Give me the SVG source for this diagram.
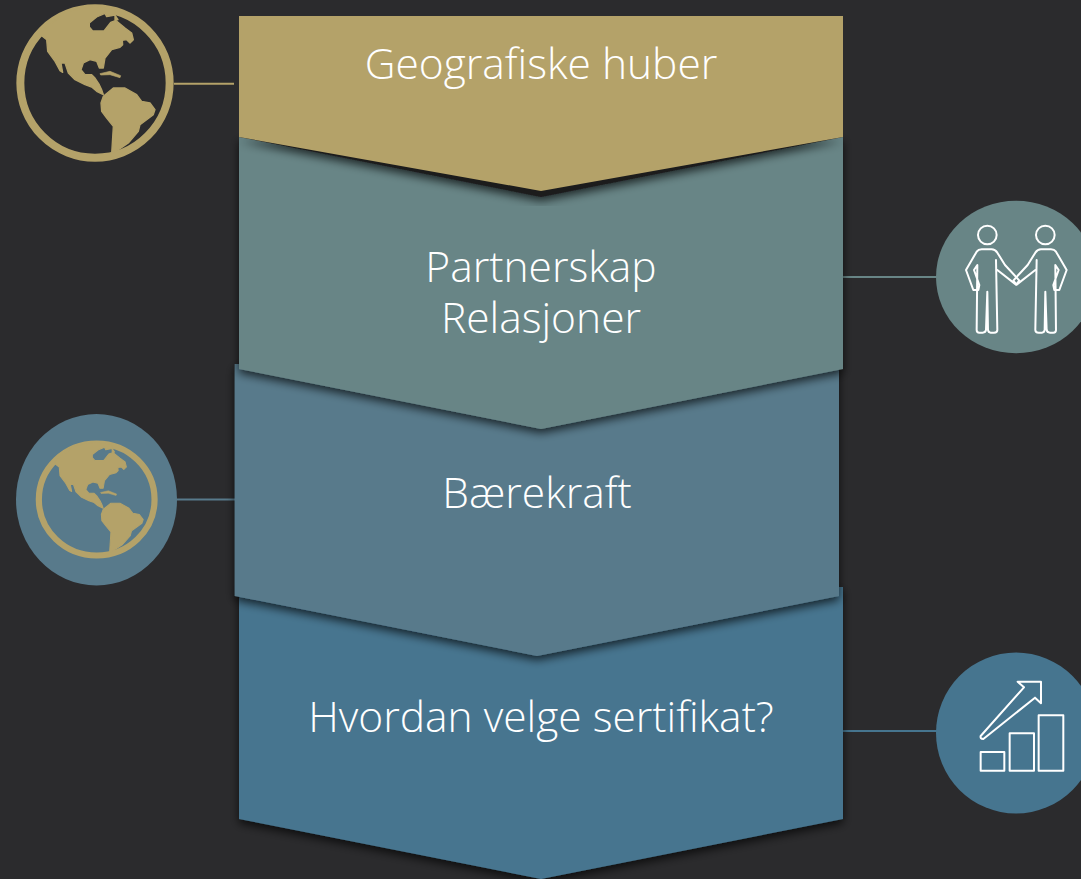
<svg xmlns="http://www.w3.org/2000/svg" width="1081" height="879" viewBox="0 0 1081 879">
<style>
.lbl{font-family:"Open Sans","Liberation Sans",sans-serif;font-weight:300;font-size:42.5px;fill:#fff;text-anchor:middle}
.ln{fill:none;stroke-width:2}
.ic{fill:none;stroke:#fff;stroke-width:6;stroke-linejoin:round;stroke-linecap:round}
.land{fill:#B4A269;stroke:#B4A269;stroke-width:4;stroke-linejoin:round}
</style>
<defs>
<filter id="sh" x="-5%" y="-10%" width="110%" height="125%">
<feGaussianBlur in="SourceAlpha" stdDeviation="5"/>
<feOffset dy="4"/>
<feComponentTransfer><feFuncA type="linear" slope="0.7"/></feComponentTransfer>
<feMerge><feMergeNode/><feMergeNode in="SourceGraphic"/></feMerge>
</filter>
<g id="globe" transform="translate(-285,-250)">
<circle cx="285" cy="250" r="224" fill="none" stroke="#B4A269" stroke-width="24"/>
<path class="land" fill-rule="evenodd" d="M125,108 L140,120 L143,155 L165,185 L180,213 L188,218 L183,190 L195,190 L205,220 L225,240 L255,255 L275,262 L290,275 L310,285 L305,270 L298,255 L285,235 L275,225 L255,225 L243,210 L250,190 L270,180 L290,185 L298,205 L310,205 L315,175 L335,150 L360,143 L368,135 L367,122 L380,120 L390,130 L400,120 L395,100 L375,85 L345,60 L345,30 L285,20 L200,35 L125,95 Z M268,70 L290,52 L315,41 L320,51 L345,46 L354,60 L332,68 L312,94 L278,94 L268,82 Z"/>
<path class="land" style="stroke-width:2" d="M300,222 L330,215 L362,228 L360,234 L330,225 L302,226 Z"/>
<path class="land" d="M310,290 L340,265 L375,265 L410,285 L425,305 L450,310 L465,330 L460,345 L420,375 L415,395 L385,430 L360,447 L335,462 L340,380 L320,355 L305,335 L303,310 Z"/>
</g>
<path id="person" class="ic" d="M228,210 L232,420 Q232,428 222,428 H212 Q205,428 204,420 L202,305 L198,420 Q197,428 188,428 H178 Q170,428 170,420 L172,225 L162,240 L178,285 L175,300 L160,300 L138,240 L170,185 Q175,178 185,178 H215 Q225,178 232,188 L255,225 L292,265 L298,272 L288,284 L232,240"/>
</defs>
<rect width="1081" height="879" fill="#2B2B2D"/>
<g id="connectors">
<line class="ln" x1="174" y1="83.7" x2="234" y2="83.7" stroke="#B4A269"/>
<line class="ln" x1="843" y1="277" x2="937" y2="277" stroke="#688586"/>
<line class="ln" x1="176" y1="499.5" x2="235" y2="499.5" stroke="#587A8B"/>
<line class="ln" x1="843" y1="731" x2="937" y2="731" stroke="#46758F"/>
</g>
<g id="node-sertifikat">
<polygon points="239,587 843,587 843,819 541,879 239,819" fill="#46758F" filter="url(#sh)"/>
<text class="lbl" x="541" y="732">Hvordan velge sertifikat?</text>
</g>
<g id="node-baerekraft">
<polygon points="234.7,364 839,364 839,596 537,656 234.7,596" fill="#587A8B" filter="url(#sh)"/>
<text class="lbl" x="537" y="508">Bærekraft</text>
</g>
<g id="node-partnerskap">
<polygon points="239,137 843,137 843,369 541,429 239,369" fill="#688586" filter="url(#sh)"/>
<text class="lbl" x="541" y="282">Partnerskap</text>
<text class="lbl" x="541" y="333">Relasjoner</text>
</g>
<g id="node-geografiske">
<polygon points="239,137 541,197 843,137" fill="#1C1B1C" filter="url(#sh)"/>
<polygon points="239,16 843,16 843,137 541,191 239,137" fill="#B4A269"/>
<text class="lbl" x="541" y="79">Geografiske huber</text>
</g>
<g id="icon-globe-top">
<use href="#globe" transform="translate(95,83) scale(0.3333)"/>
</g>
<g id="icon-handshake">
<ellipse cx="1016" cy="277" rx="80" ry="76.3" fill="#688586"/>
<g transform="translate(920,190) scale(0.3333)">
<circle class="ic" cx="202" cy="135" r="28"/>
<circle class="ic" cx="376" cy="135" r="28"/>
<use href="#person"/>
<use href="#person" transform="translate(578,0) scale(-1,1)"/>
</g>
</g>
<g id="icon-globe-mid">
<ellipse cx="96.5" cy="499.7" rx="80.5" ry="85.7" fill="#587A8B"/>
<use href="#globe" transform="translate(96.7,499.5) scale(0.2583,0.25)"/>
</g>
<g id="icon-chart">
<ellipse cx="1016" cy="733" rx="80" ry="80.5" fill="#46758F"/>
<g transform="translate(920,640) scale(0.3333)">
<rect class="ic" x="182" y="336" width="71" height="56"/>
<rect class="ic" x="269" y="280" width="73" height="112"/>
<rect class="ic" x="356" y="226" width="74" height="166"/>
<path class="ic" d="M293,125 H363 V190 L345,173 L190,297 Q180,297 182,288 L312,142 Z"/>
</g>
</g>
</svg>
